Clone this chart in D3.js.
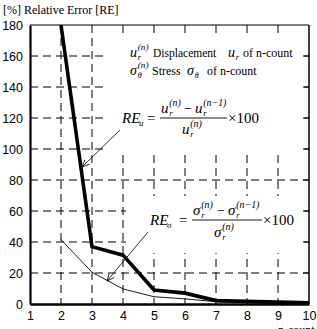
<!DOCTYPE html>
<html>
<head>
<meta charset="utf-8">
<script src="https://cdn.jsdelivr.net/npm/d3@7"></script>
<style>
  body { margin: 0; background: #fff; }
  svg { display: block; }
</style>
</head>
<body>
<div id="chart"></div>
<script>
const width = 317;
const height = 329;

// Data
const nCount = [2, 3, 4, 5, 6, 7, 8, 9, 10];
const displacementRE = [180, 37, 31.5, 9, 7, 2.2, 1.7, 1.2, 0.8];
const stressRE = [41.5, 20.5, 9.7, 4.7, 3.3, 1.5, 0.8, 0.5, 0.3];
const xTicks = [1, 2, 3, 4, 5, 6, 7, 8, 9, 10];
const yTicks = [0, 20, 40, 60, 80, 100, 120, 140, 160, 180];

const serif = "'Liberation Serif', 'Times New Roman', serif";
const sans = "'Liberation Sans', Arial, sans-serif";

// Scales
const x = d3.scaleLinear().domain([1, 10]).range([30, 309]);
const y = d3.scaleLinear().domain([0, 180]).range([304, 25]);

const svg = d3.select("#chart").append("svg")
    .attr("width", width)
    .attr("height", height);

svg.append("defs").append("clipPath").attr("id", "plotClip")
    .append("rect")
    .attr("x", x(1)).attr("y", y(180))
    .attr("width", x(10) - x(1)).attr("height", y(0) - y(180));

// Dashed grid
svg.append("g").selectAll("line")
    .data(yTicks.slice(1, -1))
    .enter().append("line")
    .attr("x1", x(1)).attr("x2", x(10))
    .attr("y1", d => y(d)).attr("y2", d => y(d))
    .attr("stroke", "#000").attr("stroke-width", 1)
    .attr("stroke-dasharray", "8,5");

svg.append("g").selectAll("line")
    .data(xTicks.slice(1, -1))
    .enter().append("line")
    .attr("x1", d => x(d)).attr("x2", d => x(d))
    .attr("y1", y(180)).attr("y2", y(0))
    .attr("stroke", "#000").attr("stroke-width", 1)
    .attr("stroke-dasharray", "8,5");

// White boxes behind the annotations
svg.append("rect").attr("x", 107).attr("y", 36).attr("width", 197).attr("height", 116).attr("fill", "#fff");
svg.append("rect").attr("x", 126).attr("y", 196).attr("width", 178).attr("height", 57).attr("fill", "#fff");

// Inner ticks on the right border
svg.append("g").selectAll("line")
    .data(yTicks.slice(1, -1))
    .enter().append("line")
    .attr("x1", x(10) - 6).attr("x2", x(10))
    .attr("y1", d => y(d)).attr("y2", d => y(d))
    .attr("stroke", "#000").attr("stroke-width", 1);

// Frame
svg.append("line").attr("x1", x(1)).attr("x2", x(10)).attr("y1", y(180)).attr("y2", y(180))
    .attr("stroke", "#000").attr("stroke-width", 1.2);
svg.append("line").attr("x1", x(10)).attr("x2", x(10)).attr("y1", y(180)).attr("y2", y(0))
    .attr("stroke", "#000").attr("stroke-width", 1.5);

// Lines
const line = d3.line().x((d, i) => x(nCount[i])).y(d => y(d));

svg.append("path")
    .datum(stressRE)
    .attr("d", line)
    .attr("fill", "none")
    .attr("stroke", "#000")
    .attr("stroke-width", 0.9)
    .attr("clip-path", "url(#plotClip)");

svg.append("path")
    .datum(displacementRE)
    .attr("d", line)
    .attr("fill", "none")
    .attr("stroke", "#000")
    .attr("stroke-width", 3.6)
    .attr("stroke-linejoin", "miter")
    .attr("clip-path", "url(#plotClip)");

// Left and bottom axes
const yAxis = d3.axisLeft(y).tickValues(yTicks).tickSize(0).tickPadding(7);
const gy = svg.append("g").attr("transform", `translate(${x(1)},0)`).call(yAxis);
gy.select(".domain").attr("stroke-width", 2.2);
gy.selectAll("text").attr("font-family", sans).attr("font-size", 12.5).attr("fill", "#000");

const xAxis = d3.axisBottom(x).tickValues(xTicks).tickSize(0).tickPadding(7);
const gx = svg.append("g").attr("transform", `translate(0,${y(0)})`).call(xAxis);
gx.select(".domain").attr("stroke-width", 2.4);
gx.selectAll("text").attr("font-family", sans).attr("font-size", 12.5).attr("fill", "#000");

// Titles
svg.append("text").attr("x", 3).attr("y", 14)
    .attr("font-family", serif).attr("font-size", 12)
    .text("[%] Relative Error [RE]");
svg.append("text").attr("x", 278).attr("y", 334)
    .attr("font-family", serif).attr("font-size", 12)
    .text("n-count");

// Math helpers
function txt(s, px, py, size, italic) {
    svg.append("text").attr("x", px).attr("y", py)
        .attr("font-family", serif).attr("font-size", size)
        .attr("font-style", italic ? "italic" : "normal")
        .text(s);
}
function sym(base, sub, sup, px, py, size) {
    txt(base, px, py, size, true);
    const w = size * 0.55;
    if (sub) txt(sub, px + w, py + 3, size * 0.58, true);
    if (sup) txt(sup, px + w, py - 7, size * 0.66, true);
}

// Legend
sym("u", "r", "(n)", 130, 57, 14);
txt("Displacement", 153, 57, 11.5, false);
sym("u", "r", null, 228, 57, 14);
txt("of n-count", 243, 57, 12, false);

sym("σ", "θ", "(n)", 130, 75, 14);
txt("Stress", 152, 75, 12, false);
sym("σ", "θ", null, 187, 75, 14);
txt("of n-count", 207, 75, 12, false);

// RE_u formula
txt("RE", 122, 123, 15, true);
txt("u", 139, 126, 9, true);
txt("=", 147, 123, 15, false);
sym("u", "r", "(n)", 161, 113, 15);
txt("−", 184, 113, 14, false);
sym("u", "r", "(n−1)", 195, 113, 15);
svg.append("line").attr("x1", 160).attr("x2", 227).attr("y1", 118).attr("y2", 118)
    .attr("stroke", "#000").attr("stroke-width", 0.9);
sym("u", "r", "(n)", 182, 134, 15);
txt("×100", 228, 123, 15, false);

// RE_sigma formula
txt("RE", 150, 225, 15, true);
txt("σ", 167, 228, 9, true);
txt("=", 179, 225, 15, false);
sym("σ", "r", "(n)", 193, 215, 15);
txt("−", 217, 215, 14, false);
sym("σ", "r", "(n−1)", 228, 215, 15);
svg.append("line").attr("x1", 192).attr("x2", 262).attr("y1", 220).attr("y2", 220)
    .attr("stroke", "#000").attr("stroke-width", 0.9);
sym("σ", "r", "(n)", 214, 237, 15);
txt("×100", 263, 225, 15, false);

// Arrows
svg.select("defs").append("marker")
    .attr("id", "arrow")
    .attr("viewBox", "0 0 10 10")
    .attr("refX", 9).attr("refY", 5)
    .attr("markerWidth", 8).attr("markerHeight", 8)
    .attr("markerUnits", "userSpaceOnUse")
    .attr("orient", "auto")
    .append("path")
    .attr("d", "M0,1 L9,5 L0,9")
    .attr("fill", "none").attr("stroke", "#000").attr("stroke-width", 1);

svg.append("line").attr("x1", 120).attr("y1", 130).attr("x2", 82).attr("y2", 167)
    .attr("stroke", "#000").attr("stroke-width", 0.8).attr("marker-end", "url(#arrow)");
svg.append("line").attr("x1", 148).attr("y1", 232).attr("x2", 107).attr("y2", 281)
    .attr("stroke", "#000").attr("stroke-width", 0.8).attr("marker-end", "url(#arrow)");
</script>
</body>
</html>
